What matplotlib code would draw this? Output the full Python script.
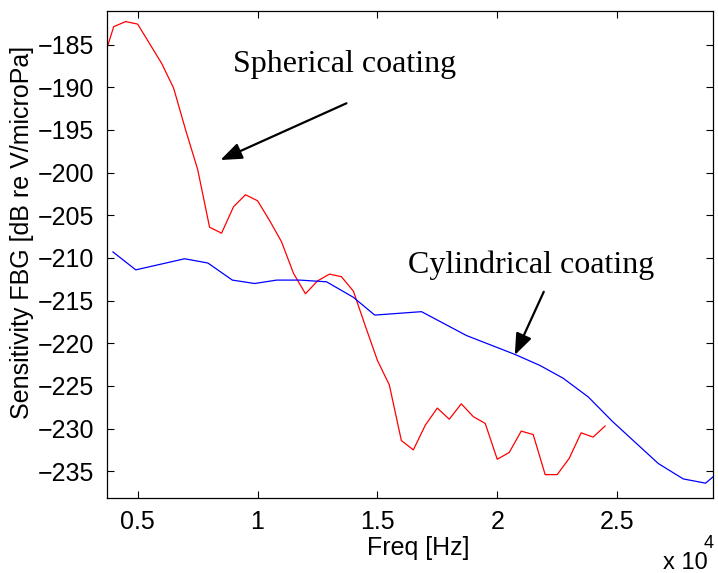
import matplotlib
matplotlib.use("Agg")
import matplotlib.pyplot as plt
from matplotlib.ticker import FuncFormatter

# spherical coating (red)
red_freq = [3500, 4000, 4500, 5000, 5500, 6000, 6500, 7000, 7500, 8000,
            8500, 9000, 9500, 10000, 10500, 11000, 11500, 12000, 12500, 13000,
            13500, 14000, 14500, 15000, 15500, 16000, 16500, 17000, 17500, 18000,
            18500, 19000, 19500, 20000, 20500, 21000, 21500, 22000, 22500, 23000,
            23500, 24000, 24500]
red_db = [-187.4, -182.9, -182.3, -182.6, -184.9, -187.2, -190.1, -195.0, -199.6, -206.4,
          -207.1, -204.0, -202.6, -203.3, -205.6, -208.1, -211.8, -214.2, -212.7, -211.9,
          -212.2, -213.9, -218.0, -222.0, -224.9, -231.4, -232.5, -229.6, -227.6, -228.9,
          -227.1, -228.6, -229.4, -233.6, -232.8, -230.3, -230.7, -235.4, -235.4, -233.5,
          -230.5, -231.0, -229.7]

# cylindrical coating (blue)
blue_freq = [3970, 4920, 6960, 7930, 8950, 9880, 10800, 11760, 12880, 13990,
             14890, 16840, 18720, 20730, 21780, 22750, 23800, 24820, 26720, 27760,
             28690, 29700]
blue_db = [-209.3, -211.4, -210.1, -210.6, -212.6, -213.0, -212.6, -212.6, -212.8, -214.6,
           -216.7, -216.3, -219.1, -221.3, -222.6, -224.1, -226.3, -229.2, -234.1, -235.9,
           -236.4, -234.0]

xticks = [5000, 10000, 15000, 20000, 25000]
yticks = [-235, -230, -225, -220, -215, -210, -205, -200, -195, -190, -185]

plt.rcParams['font.family'] = ['Liberation Sans', 'DejaVu Sans']

fig = plt.figure(figsize=(7.18, 5.73), dpi=100)
ax = fig.add_axes([0.149, 0.131, 0.844, 0.850])

ax.plot(red_freq, red_db, color='#ff0000', lw=0.9)
ax.plot(blue_freq, blue_db, color='#0000ff', lw=0.9)

ax.set_xlim(3720, 29000)
ax.set_ylim(-238.13, -181.05)
ax.set_xticks(xticks)
ax.set_yticks(yticks)
ax.xaxis.set_major_formatter(FuncFormatter(lambda v, p: '%g' % (v / 1e4)))
ax.tick_params(direction='in', length=5, width=0.8, top=True, right=True,
               labelsize=18, pad=9)
for s in ax.spines.values():
    s.set_linewidth(0.9)

ax.set_xlabel('Freq [Hz]', fontsize=18)
ax.xaxis.set_label_coords(0.513, -0.103)
ax.xaxis.label.set_va('center')
ax.set_ylabel('Sensitivity FBG [dB re V/microPa]', fontsize=18)
ax.yaxis.set_label_coords(-0.140, 0.546)
ax.yaxis.label.set_va('center')

# exponent label, as MATLAB puts it under the right end of the x axis
ax.text(0.918, -0.133, 'x 10', transform=ax.transAxes, fontsize=17,
        ha='left', va='center')
ax.text(0.985, -0.094, '4', transform=ax.transAxes, fontsize=13,
        ha='left', va='center')

serif = ['Liberation Serif', 'DejaVu Serif']
ax.text(8964, -188.24, 'Spherical coating', family=serif, fontsize=23,
        ha='left', va='baseline')
ax.text(16267, -211.81, 'Cylindrical coating', family=serif, fontsize=23,
        ha='left', va='baseline')

arrow = dict(arrowstyle='-|>,head_length=1.3,head_width=0.5', color='black',
             lw=1.6, shrinkA=0, shrinkB=0)
ax.annotate('', xy=(8451, -198.53), xytext=(13709, -191.88), arrowprops=arrow)
ax.annotate('', xy=(20732, -221.39), xytext=(21941, -213.97), arrowprops=arrow)

fig.savefig('out.png', dpi=100)
